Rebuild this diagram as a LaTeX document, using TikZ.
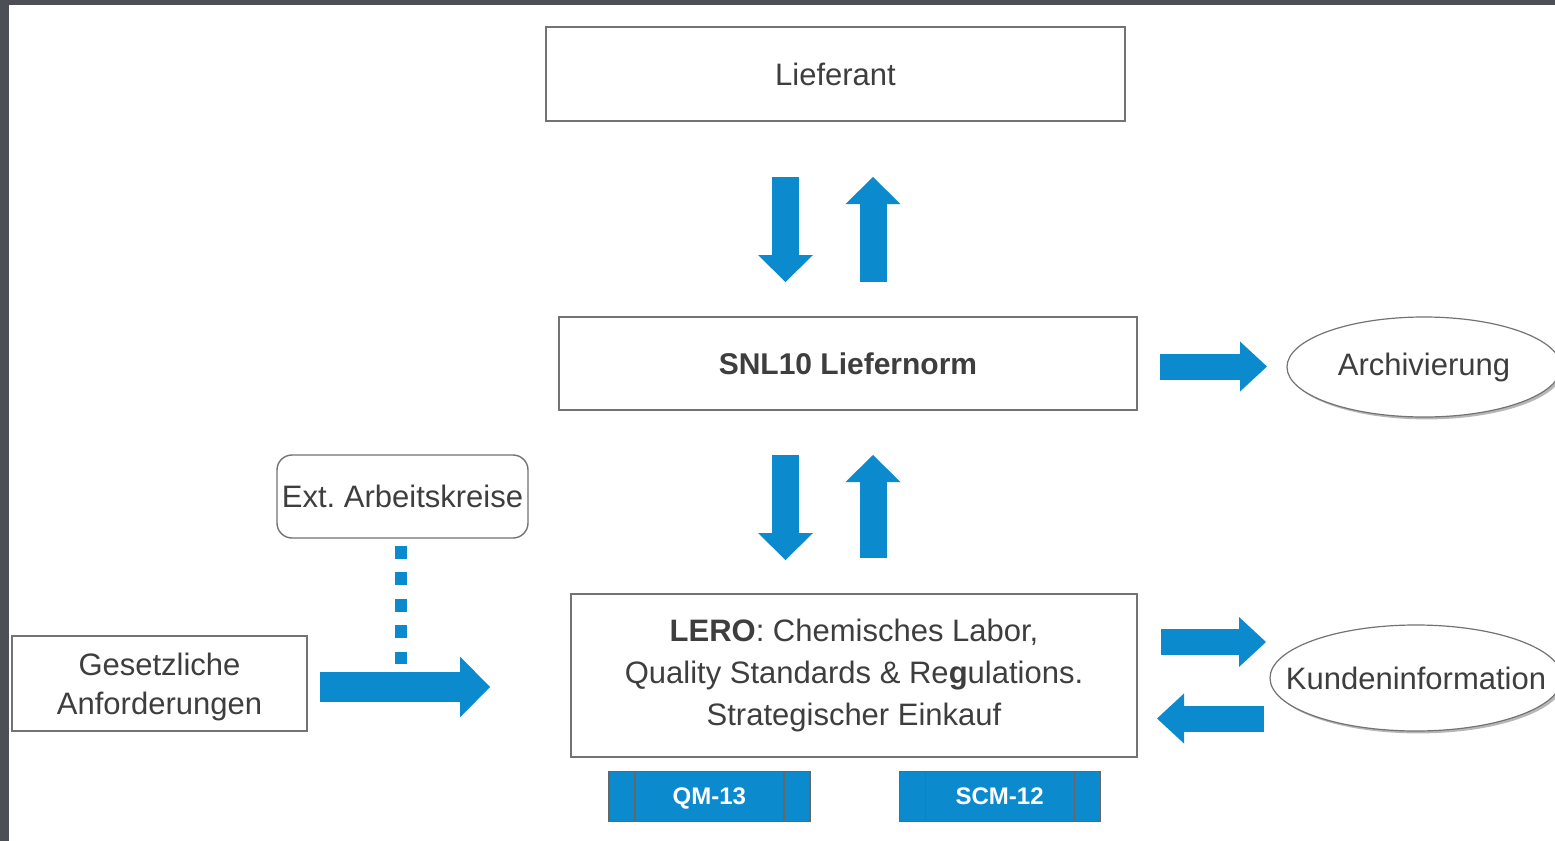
\documentclass[tikz,border=0pt]{standalone}
\usepackage{fontspec}
\setmainfont{Liberation Sans}
\usetikzlibrary{positioning,arrows.meta,shapes.geometric,shadows}
\definecolor{fblue}{RGB}{12,138,206}
\definecolor{txtgray}{RGB}{62,62,62}
\definecolor{bggray}{RGB}{76,79,85}
\newcommand{\boxfont}{\fontsize{15.5}{19.5}\selectfont}
\tikzset{plainbox/.style={draw=black!55,line width=0.7pt,fill=white,text=txtgray,font=\boxfont,align=center,inner sep=0pt},
	 rbox/.style={plainbox,rounded corners=7.5pt},
	 ell/.style={ellipse,draw=black!55,line width=0.6pt,fill=white,inner sep=0pt,
		drop shadow={shadow xshift=1.2pt,shadow yshift=-1.2pt,fill=black!40,opacity=0.7}},
	 elltext/.style={text=txtgray,font=\boxfont,inner sep=0pt},
	 doc/.style={draw=black!60,line width=0.6pt,fill=fblue,text=white,font=\fontsize{12}{14}\selectfont\bfseries,
		minimum width=100.5pt,minimum height=25pt,inner sep=0pt,text height=8.6pt,text depth=0pt,
		path picture={\draw[black!60,line width=0.6pt]
			([xshift=13pt]path picture bounding box.north west) -- ([xshift=13pt]path picture bounding box.south west)
			([xshift=-13pt]path picture bounding box.north east) -- ([xshift=-13pt]path picture bounding box.south east);}},
	 barrow/.style={draw=fblue,line width=13.5pt,-{Triangle[length=13.5pt,width=27.5pt,line width=0pt]}},
	 harrow/.style={draw=fblue,line width=13pt,-{Triangle[length=13.5pt,width=25pt,line width=0pt]}},
	 garrow/.style={draw=fblue,line width=15pt,-{Triangle[length=15pt,width=30.5pt,line width=0pt]}},
	 dotline/.style={draw=fblue,line width=6pt,dash pattern=on 6.5pt off 6.75pt}
	 }

\begin{document}
\begin{tikzpicture}[x=0.5pt,y=-0.5pt] % Liefernorm: Lieferant, SNL10, LERO
	\clip (0,0) rectangle (1555,841);
	\fill[bggray] (0,0) rectangle (1555,841);
	\fill[white] (9,5) rectangle (1555,841);
	% boxes
	\node[plainbox,minimum width=289.5pt,minimum height=47pt] (lief) at (835.5,74) {Lieferant};
	\node[plainbox,font=\fontsize{15}{19}\selectfont\bfseries,minimum width=289pt,minimum height=46.5pt] (snl) at (848,363.5) {SNL10 Liefernorm};
	\node[plainbox,font=\fontsize{15.5}{21}\selectfont,minimum width=283pt,minimum height=81.5pt] (lero) at (854,675.5)
		{\textbf{LERO}: Chemisches Labor,\\ Quality Standards \& Re{\bfseries g}ulations.\\ Strategischer Einkauf};
	\node[rbox,minimum width=125.5pt,minimum height=41.5pt] (ext) at (402.5,496.5) {Ext.\ Arbeitskreise};
	\node[plainbox,minimum width=147.5pt,minimum height=47.5pt,text depth=0pt] (gesetz) at (159.5,683.5) {Gesetzliche\\ Anforderungen};
	\node[ell,minimum width=137pt,minimum height=50pt,label={[elltext]center:Archivierung}] (arch) at (1424,367) {};
	\node[ell,minimum width=146pt,minimum height=53pt,label={[elltext]center:Kundeninformation}] (kund) at (1416,678) {};
	\node[doc,below right=6.5pt and 19pt of lero.south west] (qm) {QM-13};
	\node[doc,below left=6.5pt and 18.5pt of lero.south east] (scm) {SCM-12};
	% arrow ends
	\coordinate (d1a) at (785.5,177); \coordinate (d1b) at (785.5,282);
	\coordinate (u1a) at (873,282); \coordinate (u1b) at (873,177);
	\coordinate (d2a) at (785.5,455); \coordinate (d2b) at (785.5,560);
	\coordinate (u2a) at (873,558); \coordinate (u2b) at (873,455);
	\coordinate (ar1) at (1160,366.5); \coordinate (ar2) at (1267,366.5);
	\coordinate (kr1) at (1161,642); \coordinate (kr2) at (1266,642);
	\coordinate (kl1) at (1264,718.5); \coordinate (kl2) at (1157,718.5);
	\coordinate (g1) at (320,687); \coordinate (g2) at (490,687);
	\coordinate (dots) at (401,664);
	\draw[barrow] (d1a) to (d1b); \draw[barrow] (u1a) to (u1b);
	\draw[barrow] (d2a) to (d2b); \draw[barrow] (u2a) to (u2b);
	\draw[harrow] (ar1) to (ar2);
	\draw[harrow] (kr1) to (kr2); \draw[harrow] (kl1) to (kl2);
	\draw[garrow] (g1) to (g2);
	\draw[dotline] ([xshift=-0.75pt,yshift=-3.5pt]ext.south) to (dots);
\end{tikzpicture}
\end{document}
